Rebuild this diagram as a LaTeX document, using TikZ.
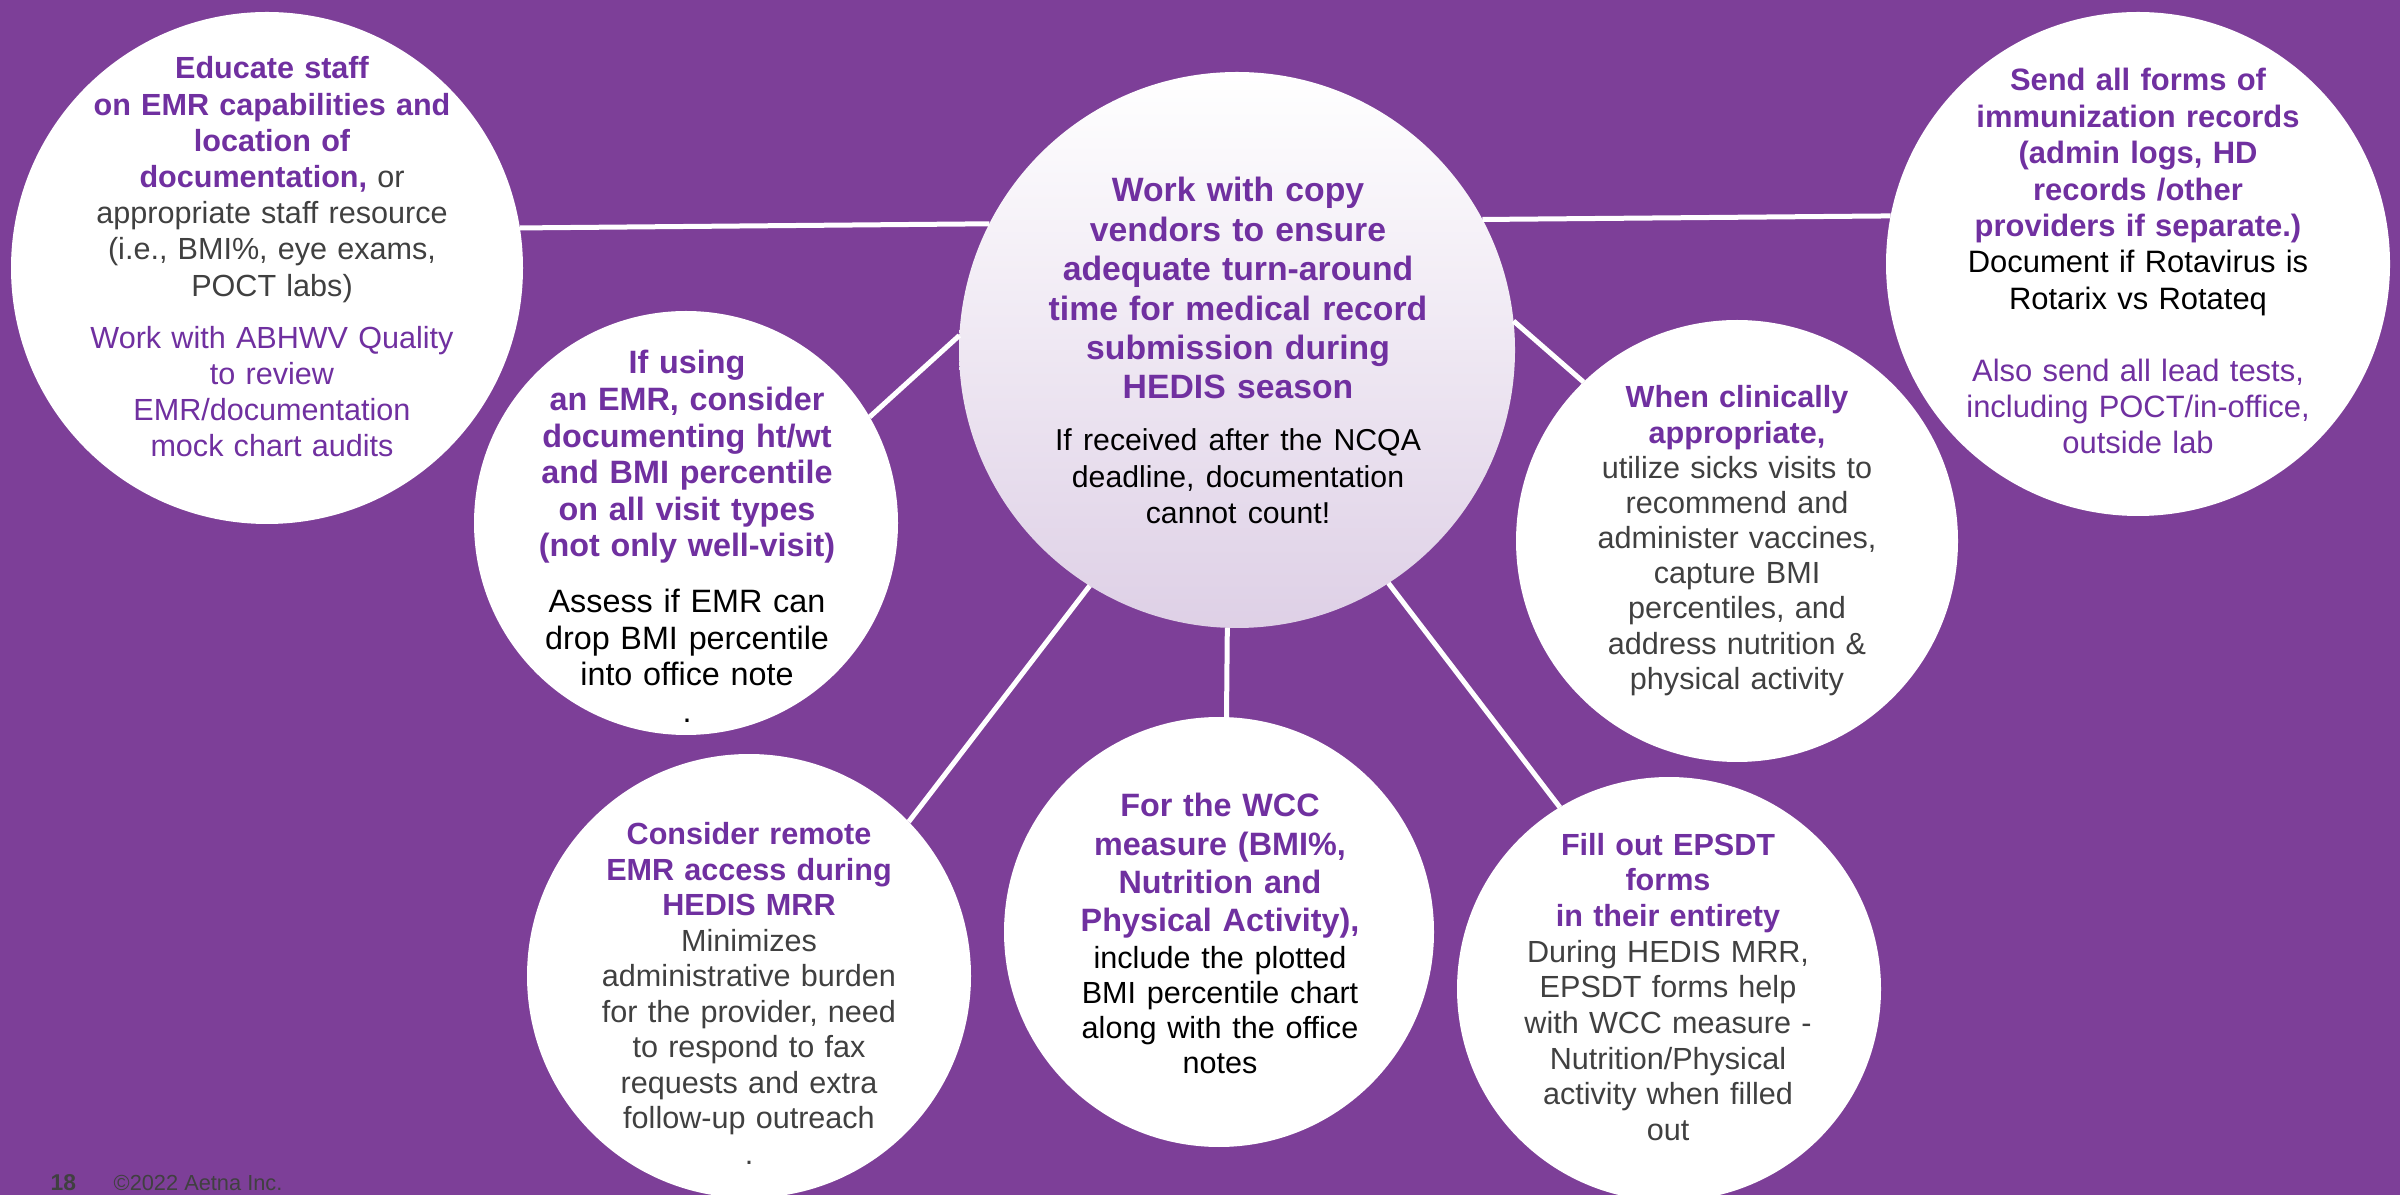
\documentclass[tikz,border=0pt]{standalone}
\usepackage{fontspec}
\setmainfont{Liberation Sans}
\definecolor{aetnaviolet}{RGB}{125,63,152}
\definecolor{aetnahead}{RGB}{112,48,160}
\definecolor{aetnagray}{RGB}{64,64,64}
\definecolor{aetnalilac}{RGB}{222,208,230}
\usepackage{tikz}

\tikzset{
  bubble/.style={circle, fill=white, inner sep=0pt, outer sep=0pt},
  hub/.style={circle, top color=white, bottom color=aetnalilac, inner sep=0pt, outer sep=0pt},
  spoke/.style={draw=white, line width=0.5mm},
  txt/.style={anchor=base, align=center, text width=60mm, inner sep=0pt,
    font=\fontsize{8.7}{10.3}\selectfont},
}
\newcommand{\headtxt}{\bfseries\color{aetnahead}}

\begin{document}
\begin{tikzpicture}[x=0.1mm, y=-0.1mm]
% Background
\useasboundingbox (0,0) rectangle (2400,1195);
\clip (0,0) rectangle (2400,1195);
\fill[aetnaviolet] (0,0) rectangle (2400,1195);

% Centre circle
\node[hub, minimum size=55.6mm] (vend) at (1237,350) {};

% Outer circles
\node[bubble, minimum size=51.2mm] (educ) at (267,268) {};
\node[bubble, minimum size=42.4mm] (emr) at (686,523) {};
\node[bubble, minimum size=50.4mm] (immun) at (2138,264) {};
\node[bubble, minimum size=44.2mm] (sick) at (1737,541) {};
\node[bubble, minimum size=44.4mm] (remote) at (749,976) {};
\node[bubble, minimum size=43mm] (wcc) at (1219,932) {};
\node[bubble, minimum size=42.4mm] (epsdt) at (1669,989) {};

% Spokes
\draw[spoke] (educ.9.7) -- (vend.153.3);
\draw[spoke] (vend.28.8) -- (immun.169);
\draw[spoke] (emr.30) -- (vend.177);
\draw[spoke] (vend.6) -- (sick.134.8);
\draw[spoke] (vend.238) -- (remote.44);
\draw[spoke] (vend.268) -- (wcc.88);
\draw[spoke] (vend.303.6) -- (epsdt.121.6);

% Texts
\node[txt, font=\fontsize{9.6}{11.2}\selectfont] (vendtext) at (1238,202) {%
  {\headtxt Work with copy\\ vendors to ensure\\ adequate turn-around\\ time for medical record\\ submission during\\ HEDIS season\par}
  \vspace{1.55mm}
  {\fontsize{8.6}{10.35}\selectfont If received after the NCQA\\ deadline, documentation\\ cannot count!\par}};

\node[txt] (eductext) at (272,79) {%
  {\headtxt Educate staff\\ on EMR capabilities and\\ location of\\ documentation,} {\color{aetnagray} or\\ appropriate staff resource\\ (i.e., BMI\%, eye exams,\\ POCT labs)\par}
  \vspace{1.6mm}
  {\color{aetnahead} Work with ABHWV Quality\\ to review\\ EMR/documentation\\ mock chart audits\par}};

\node[txt, font=\fontsize{9.2}{10.4}\selectfont] (emrtext) at (687,374) {%
  {\headtxt If using\\ an EMR, consider\\ documenting ht/wt\\ and BMI percentile\\ on all visit types\\ (not only well-visit)\par}
  \vspace{1.95mm}
  {Assess if EMR can\\ drop BMI percentile\\ into office note\\ .\par}};

\node[txt, font=\fontsize{8.8}{10.35}\selectfont] (immuntext) at (2138,91) {%
  {\headtxt Send all forms of\\ immunization records\\ (admin logs, HD\\ records /other\\ providers if separate.)}\\ Document if Rotavirus is\\ Rotarix vs Rotateq\par
  \vspace{3.55mm}
  {\color{aetnahead} Also send all lead tests,\\ including POCT/in-office,\\ outside lab\par}};

\node[txt, font=\fontsize{8.7}{10}\selectfont] (sicktext) at (1737,408) {%
  {\headtxt When clinically\\ appropriate,}\\ {\color{aetnagray} utilize sicks visits to\\ recommend and\\ administer vaccines,\\ capture BMI\\ percentiles, and\\ address nutrition \&\\ physical activity\par}};

\node[txt, font=\fontsize{8.7}{10.1}\selectfont] (remotetext) at (749,845) {%
  {\headtxt Consider remote\\ EMR access during\\ HEDIS MRR}\\ {\color{aetnagray} Minimizes\\ administrative burden\\ for the provider, need\\ to respond to fax\\ requests and extra\\ follow-up outreach\\ .\par}};

\node[txt, font=\fontsize{9.2}{10.9}\selectfont] (wcctext) at (1220,817) {%
  {\headtxt For the WCC\\ measure (BMI\%,\\ Nutrition and\\ Physical Activity),\par}
  \vspace{0.2mm}
  {\fontsize{8.7}{9.9}\selectfont include the plotted\\ BMI percentile chart\\ along with the office\\ notes\par}};

\node[txt, font=\fontsize{8.7}{10.15}\selectfont] (epsdttext) at (1668,855) {%
  {\headtxt Fill out EPSDT\\ forms\\ in their entirety}\\ {\color{aetnagray} During HEDIS MRR,\\ EPSDT forms help\\ with WCC measure -\\ Nutrition/Physical\\ activity when filled\\ out\par}};

% Footer
\node[anchor=base west, inner sep=0pt, text=aetnagray, font=\fontsize{6.5}{7}\selectfont\bfseries] (pagenum) at (50,1190) {18};
\node[anchor=base west, inner sep=0pt, text=aetnagray, font=\fontsize{6.2}{7}\selectfont] (copyright) at (113,1190) {©2022 Aetna Inc.};
\end{tikzpicture}
\end{document}
